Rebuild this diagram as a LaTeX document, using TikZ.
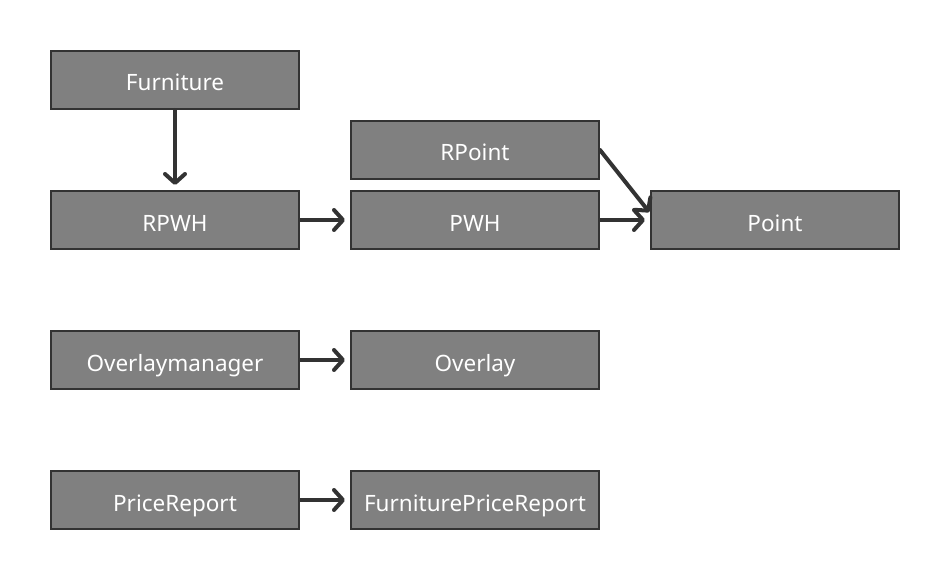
\documentclass[tikz,border=0pt]{standalone}
\usepackage{fontspec}
\setmainfont{Noto Sans}
\usetikzlibrary{arrows.meta}
\definecolor{boxgray}{HTML}{808080}
\definecolor{edgedark}{HTML}{333333}

\begin{document}
\begin{tikzpicture}[x=1pt, y=-1pt,
    classbox/.style = {draw=edgedark, line width=2pt, fill=boxgray, text=white,
        minimum width=248pt, minimum height=58pt, inner sep=0pt,
        text height=22pt, text depth=0pt,
        font=\fontsize{22.5}{26}\selectfont},
    uses/.style = {draw=edgedark, line width=4pt, line cap=round,
        -{Straight Barb[length=9pt, width=20pt, round]}, shorten >=5pt}]
        \useasboundingbox (0,0) rectangle (950,580);
        % classes
        \node[classbox](furniture)at(175,80){Furniture};
        \node[classbox](rpoint)at(475,150){RPoint};
        \node[classbox](rpwh)at(175,220){RPWH};
        \node[classbox](pwh)at(475,220){PWH};
        \node[classbox](point)at(775,220){Point};
        \node[classbox](overlaymanager)at(175,360){Overlaymanager};
        \node[classbox](overlay)at(475,360){Overlay};
        \node[classbox](pricereport)at(175,500){PriceReport};
        \node[classbox](furniturepricereport)at(475,500){FurniturePriceReport};
        \coordinate(pin)at([yshift=7pt]point.west);

        % dependencies
        \path[uses](furniture)to(rpwh);
        \path[uses](rpwh)to(pwh);
        \path[uses](pwh)to(point);
        \path[uses, shorten >=1pt](rpoint.east)to(pin);
        \path[uses](overlaymanager)to(overlay);
        \path[uses](pricereport)to(furniturepricereport);
    \end{tikzpicture}
\end{document}
